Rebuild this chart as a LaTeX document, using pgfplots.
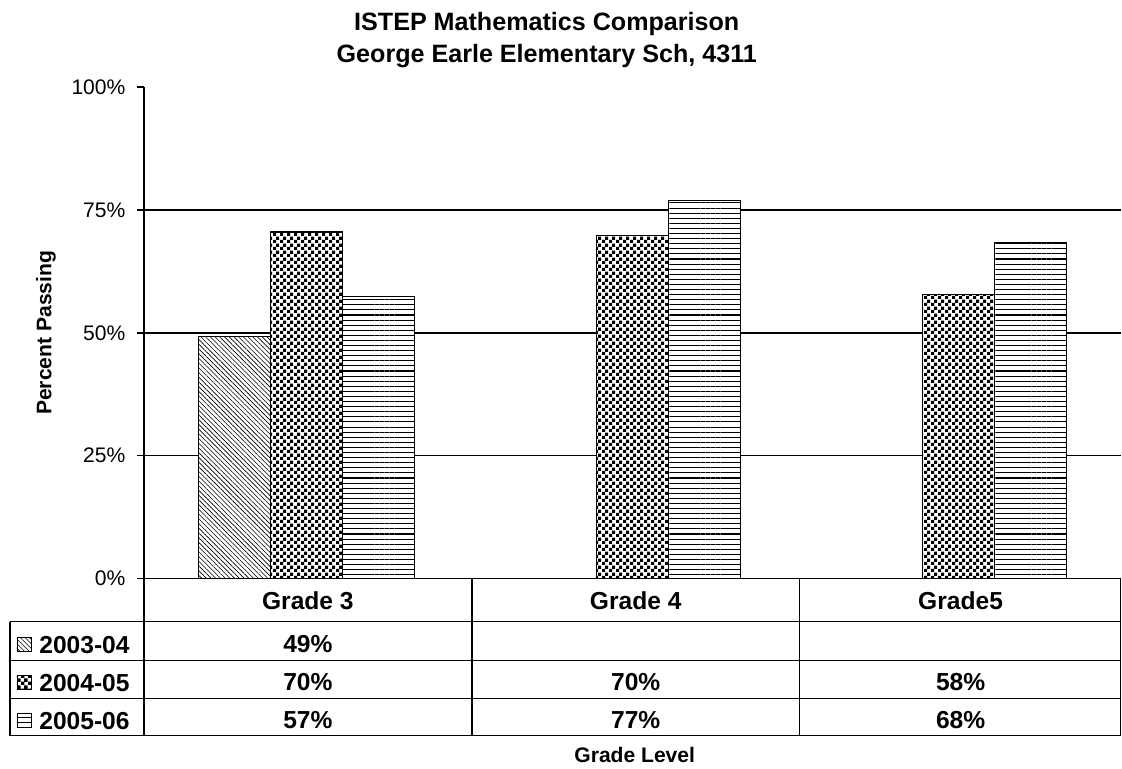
\documentclass[border=0pt]{standalone}
\usepackage{fontspec}
\setmainfont{Liberation Sans}
\usepackage{pgfplots}
\pgfplotsset{compat=1.18}
\usetikzlibrary{patterns,patterns.meta}

% small checker squares, as in the reference
\pgfdeclarepatternformonly{smallchecker}{\pgfpointorigin}{\pgfqpoint{4pt}{4pt}}{\pgfqpoint{4pt}{4pt}}{
  \pgfpathrectangle{\pgfpointorigin}{\pgfqpoint{2.05pt}{2.05pt}}
  \pgfpathrectangle{\pgfqpoint{2pt}{2pt}}{\pgfqpoint{2.05pt}{2.05pt}}
  \pgfusepath{fill}
}

\tikzset{
  pat03/.style={fill=white, postaction={pattern={Lines[angle=-45,distance=1.9pt,line width=0.35pt]}}},
  pat04/.style={fill=white, postaction={pattern=smallchecker}},
  pat05/.style={fill=white, postaction={pattern={Lines[angle=0,distance=2.9pt,line width=0.6pt]}}},
  tab/.style={font=\bfseries\fontsize{14}{16}\selectfont},
}

\begin{document}
\begin{tikzpicture}
\begin{scope}[x=0.02cm,y=-0.02cm]
\useasboundingbox (0,0) rectangle (1122,766);
\end{scope}

\begin{axis}[
  at={(2.88cm,-11.58cm)}, anchor=south west,
  scale only axis, width=19.56cm, height=9.84cm,
  xmin=0.5, xmax=3.5, ymin=0, ymax=100,
  ybar=0pt, bar width=1.44cm,
  axis x line*=bottom, axis y line*=left,
  axis line style={black, line width=0.8pt},
  xtick=\empty,
  ytick={0,25,50,75,100},
  yticklabels={0\%,25\%,50\%,75\%,100\%},
  yticklabel style={font=\fontsize{12}{14}\selectfont, xshift=-3pt},
  tick align=outside, major tick length=4pt,
  tick style={black, line width=0.8pt},
  extra y ticks={25,50,75},
  extra y tick labels={},
  extra y tick style={ymajorgrids=true, major tick length=0pt},
  major grid style={black, line width=0.8pt},
  clip=false,
]
% 2003-04
\addplot[draw=black, line width=0.6pt, pat03] coordinates {(1,49.2)};
% 2004-05
\addplot[draw=black, line width=0.6pt, pat04] coordinates {(1,70.5) (2,69.8) (3,57.7)};
% 2005-06
\addplot[draw=black, line width=0.6pt, pat05] coordinates {(1,57.4) (2,77.0) (3,68.3)};
\end{axis}

\begin{scope}[x=0.02cm,y=-0.02cm]
% titles
\node[anchor=base, font=\bfseries\fontsize{14.3}{17}\selectfont] at (547,31) {ISTEP Mathematics Comparison};
\node[anchor=base, font=\bfseries\fontsize{14.3}{17}\selectfont] at (547,63) {George Earle Elementary Sch, 4311};
\node[rotate=90, font=\bfseries\fontsize{12}{14}\selectfont] at (46,333) {Percent Passing};
\node[font=\bfseries\fontsize{12}{14}\selectfont] at (635,755) {Grade Level};

% data table grid
\begin{scope}[line width=0.8pt]
\draw (10,622) -- (1121,622);
\draw (10,661) -- (1121,661);
\draw (10,699) -- (1121,699);
\draw (10,736) -- (1121,736);
\draw (10,622) -- (10,736);
\draw (144,579) -- (144,736);
\draw (472,579) -- (472,736);
\draw (800,579) -- (800,736);
\draw (1121,579) -- (1121,736);
\end{scope}

% header
\node[tab] at (308,601) {Grade 3};
\node[tab] at (636,601) {Grade 4};
\node[tab] at (961,601) {Grade5};

% legend keys and row names
\draw[line width=0.5pt, pat03] (17,638) rectangle (31,652);
\draw[line width=0.5pt, pat04] (17,676) rectangle (31,690);
\draw[line width=0.5pt, pat05] (17,714) rectangle (31,728);
\node[tab, anchor=west, inner sep=0pt] at (39,645) {2003-04};
\node[tab, anchor=west, inner sep=0pt] at (39,683) {2004-05};
\node[tab, anchor=west, inner sep=0pt] at (39,721) {2005-06};

% values
\node[tab] at (308,644) {49\%};
\node[tab] at (308,682) {70\%};
\node[tab] at (636,682) {70\%};
\node[tab] at (961,682) {58\%};
\node[tab] at (308,720) {57\%};
\node[tab] at (636,720) {77\%};
\node[tab] at (961,720) {68\%};
\end{scope}
\end{tikzpicture}
\end{document}
